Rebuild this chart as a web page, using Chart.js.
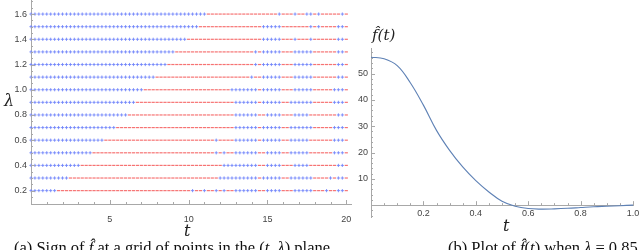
<!DOCTYPE html>
<html>
<head>
<meta charset="utf-8">
<script src="https://cdn.jsdelivr.net/npm/chart.js@4.4.0/dist/chart.umd.min.js"></script>
<style>
  body { margin: 0; background: #fff; }
  #wrap { position: relative; width: 640px; height: 250px; overflow: hidden; }
  #wrap canvas { position: absolute; }
  .lbl { position: absolute; font-family: 'DejaVu Serif', 'Liberation Serif', serif; font-style: italic; color: #222; white-space: nowrap; }
  .cap { position: absolute; font-family: 'Liberation Serif', serif; font-size: 16.5px; color: #111; white-space: nowrap; }
</style>
</head>
<body>
<div id="wrap">
  <canvas id="signChart" width="360" height="230" style="left:0; top:-5px"></canvas>
  <canvas id="fChart" width="300" height="225" style="left:340px; top:0"></canvas>
  <span class="lbl" style="left:4px; top:91px; font-size:16px">λ</span>
  <span class="lbl" style="left:184px; top:221px; font-size:16px">t</span>
  <span class="lbl" style="left:503px; top:216px; font-size:16px">t</span>
  <span class="lbl" style="left:372px; top:26px; font-size:15px">f&#770;(t)</span>
  <div class="cap" style="left:14px; top:238px">(a) Sign of <i>f&#770;</i> at a grid of points in the (<i>t</i>, <i>λ</i>) plane</div>
  <div class="cap" style="left:448px; top:238px">(b) Plot of <i>f&#770;</i>(<i>t</i>) when <i>λ</i> = 0.85</div>
</div>
<script>
// Left panel: sign of f-hat on the (t, lambda) grid
const lambdas = [1.6, 1.5, 1.4, 1.3, 1.2, 1.1, 1.0, 0.9, 0.8, 0.7, 0.6, 0.5, 0.4, 0.3, 0.2];
const tStep = 0.25;
// run lengths along t for each row: positive = blue (f > 0), negative = red (f < 0)
const signRuns = [
  [45, -18, 1, -3, 1, -2, 2, -1, 1, -5, 1, -1],
  [43, -16, 5, -7, 1, -1, 1, -4, 2, -1],
  [40, -19, 5, -3, 1, -3, 1, -6, 2, -1],
  [37, -20, 1, -1, 5, -3, 5, -6, 2, -1],
  [35, -22, 1, -1, 5, -3, 5, -6, 2, -1],
  [32, -24, 1, -2, 5, -3, 5, -6, 2, -1],
  [29, -22, 7, -1, 5, -3, 5, -5, 3, -1],
  [27, -25, 6, -1, 5, -2, 6, -5, 3, -1],
  [25, -27, 6, -2, 4, -3, 4, -7, 2, -1],
  [22, -30, 6, -1, 5, -2, 6, -5, 3, -1],
  [19, -28, 1, -4, 6, -1, 5, -2, 5, -6, 3, -1],
  [16, -31, 1, -1, 1, -2, 6, -2, 4, -2, 5, -6, 3, -1],
  [13, -36, 9, -2, 4, -3, 4, -7, 2, -1],
  [10, -38, 10, -1, 5, -2, 6, -4, 1, -1, 2, -1],
  [7, -34, 1, -2, 1, -2, 1, -1, 1, -2, 6, -2, 4, -3, 5, -3, 1, -2, 2, -1]
];
const signXTicks = [5, 10, 15, 20];
const signYTicks = [0.2, 0.4, 0.6, 0.8, 1.0, 1.2, 1.4, 1.6];

// Right panel: f-hat(t) for lambda = 0.85
const tValues = [0, 0.05, 0.1, 0.15, 0.2, 0.25, 0.3, 0.35, 0.4, 0.45, 0.5, 0.55, 0.6, 0.65, 0.7, 0.75, 0.8, 0.85, 0.9, 0.95, 1.0];
const fValues = [56.2, 55.6, 53.0, 46.5, 38.0, 28.4, 20.8, 14.5, 9.3, 5.0, 1.5, -0.4, -1.3, -1.5, -1.4, -1.2, -0.9, -0.6, -0.4, -0.2, 0.0];
const fXTicks = [0.2, 0.4, 0.6, 0.8, 1.0];
const fYTicks = [10, 20, 30, 40, 50];

const tickFont = { family: 'Liberation Sans, Arial, sans-serif', size: 9 };
const axisGray = '#a8a8a8';

// Mathematica-style inward tick marks drawn on the axis lines
const axisTicks = {
  id: 'axisTicks',
  afterDraw(chart, args, o) {
    if (!o || !o.x) return;
    const { ctx, scales: { x, y } } = chart;
    const ay = y.getPixelForValue(o.xAxisAt);
    const ax = x.getPixelForValue(o.yAxisAt);
    const isMajor = (v, step) => Math.abs(v / step - Math.round(v / step)) < 1e-6;
    ctx.save();
    ctx.strokeStyle = axisGray;
    ctx.lineWidth = 1;
    ctx.beginPath();
    for (let i = Math.ceil(o.x.from / o.x.minor); i * o.x.minor <= o.x.to + 1e-9; i++) {
      const v = i * o.x.minor;
      const px = Math.round(x.getPixelForValue(v)) + 0.5;
      const len = isMajor(v, o.x.major) ? 4 : 2;
      ctx.moveTo(px, ay);
      ctx.lineTo(px, ay - len);
    }
    for (let i = Math.ceil(o.y.from / o.y.minor); i * o.y.minor <= o.y.to + 1e-9; i++) {
      const v = i * o.y.minor;
      const py = Math.round(y.getPixelForValue(v)) + 0.5;
      const len = isMajor(v, o.y.major) ? 4 : 2;
      ctx.moveTo(ax, py);
      ctx.lineTo(ax + len, py);
    }
    ctx.stroke();
    ctx.restore();
  }
};

function fixTicks(values) {
  return function (scale) {
    scale.ticks = values.map(v => ({ value: v }));
  };
}

// build the scatter points from the run lengths
const bluePts = [];
const redPts = [];
lambdas.forEach((lam, i) => {
  let k = 0;
  signRuns[i].forEach(run => {
    for (let j = 0; j < Math.abs(run); j++) {
      const p = { x: k * tStep, y: lam };
      if (run > 0) bluePts.push(p); else redPts.push(p);
      k++;
    }
  });
});

new Chart(document.getElementById('signChart'), {
  type: 'scatter',
  data: {
    datasets: [{
      data: bluePts,
      pointStyle: 'cross',
      pointRadius: 1.6,
      borderWidth: 1,
      borderColor: 'rgba(110, 130, 250, 0.85)',
      backgroundColor: 'rgba(110, 130, 250, 0.85)'
    }, {
      data: redPts,
      pointStyle: 'line',
      pointRadius: 1.6,
      borderWidth: 1.2,
      borderColor: 'rgba(245, 90, 90, 0.85)',
      backgroundColor: 'rgba(245, 90, 90, 0.85)'
    }]
  },
  options: {
    responsive: false,
    animation: false,
    clip: false,
    layout: { padding: { top: 0, right: 9, left: 0, bottom: 0 } },
    plugins: {
      legend: { display: false },
      tooltip: { enabled: false },
      axisTicks: {
        xAxisAt: 0.094, yAxisAt: 0,
        x: { from: 0, to: 20, minor: 1, major: 5 },
        y: { from: 0.15, to: 1.7, minor: 0.05, major: 0.2 }
      }
    },
    scales: {
      x: {
        type: 'linear', min: 0, max: 20.3,
        afterBuildTicks: fixTicks(signXTicks),
        afterFit(s) { s.height = 21; s.paddingLeft = 0; s.paddingRight = 0; },
        grid: { display: false, drawTicks: false },
        border: { display: true, color: axisGray },
        ticks: { font: tickFont, color: '#444', padding: 10, maxRotation: 0, callback: v => String(v) }
      },
      y: {
        type: 'linear', min: 0.094, max: 1.71,
        afterBuildTicks: fixTicks(signYTicks),
        afterFit(s) { s.width = 31; s.paddingTop = 0; s.paddingBottom = 0; },
        grid: { display: false, drawTicks: false },
        border: { display: true, color: axisGray },
        ticks: { font: tickFont, color: '#444', padding: 4, callback: v => v.toFixed(1) }
      }
    }
  },
  plugins: [axisTicks]
});

new Chart(document.getElementById('fChart'), {
  type: 'line',
  data: {
    datasets: [{
      data: tValues.map((t, i) => ({ x: t, y: fValues[i] })),
      borderColor: '#5e81b5',
      borderWidth: 1.1,
      pointRadius: 0,
      tension: 0.4,
      fill: false
    }]
  },
  options: {
    responsive: false,
    animation: false,
    layout: { padding: { top: 48, right: 7, left: 0, bottom: 8 } },
    plugins: {
      legend: { display: false },
      tooltip: { enabled: false },
      axisTicks: {
        xAxisAt: 0, yAxisAt: 0,
        x: { from: 0.05, to: 1.0, minor: 0.05, major: 0.2 },
        y: { from: -4, to: 58, minor: 2, major: 10 }
      }
    },
    scales: {
      x: {
        type: 'linear', min: 0, max: 1.0,
        position: { y: 0 },
        afterBuildTicks: fixTicks(fXTicks),
        afterFit(s) { s.paddingLeft = 0; s.paddingRight = 0; },
        grid: { display: false, drawTicks: false },
        border: { display: true, color: axisGray },
        ticks: { font: tickFont, color: '#444', padding: 3, maxRotation: 0, callback: v => v.toFixed(1) }
      },
      y: {
        type: 'linear', min: -4.5, max: 59.7,
        afterBuildTicks: fixTicks(fYTicks),
        afterFit(s) { s.width = 31; s.paddingTop = 0; s.paddingBottom = 0; },
        grid: { display: false, drawTicks: false },
        border: { display: true, color: axisGray },
        ticks: { font: tickFont, color: '#444', padding: 3, callback: v => String(v) }
      }
    }
  },
  plugins: [axisTicks]
});
</script>
</body>
</html>
